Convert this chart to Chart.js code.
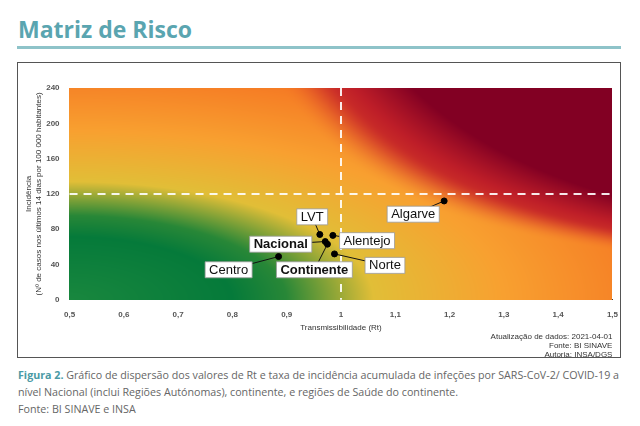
<!DOCTYPE html>
<html><head><meta charset="utf-8">
<script src="https://cdn.jsdelivr.net/npm/chart.js@4.4.0/dist/chart.umd.min.js"></script>
<style>
body{margin:0;width:640px;height:426px;background:#fff;font-family:"Open Sans",sans-serif;position:relative;overflow:hidden}
#title{position:absolute;left:18px;top:13px;font-size:23px;font-weight:bold;color:#5aa5b0}
#rule{position:absolute;left:17px;top:46px;width:604px;height:3px;background:#8ec3c9}
#box{position:absolute;left:17px;top:62px;width:602px;height:294px;border:1px solid #555}
#cap{position:absolute;left:18px;top:367px;width:606px;font-size:10.7px;line-height:17px;color:#666}
#cap b{color:#4a9aa5}
</style></head><body>
<div id="title">Matriz de Risco</div>
<div id="rule"></div>
<div id="box"><canvas id="myChart" width="602" height="294"></canvas></div>
<div id="cap"><b>Figura 2.</b> Gráfico de dispersão dos valores de Rt e taxa de incidência acumulada de infeções por SARS-CoV-2/ COVID-19 a nível Nacional (inclui Regiões Autónomas), continente, e regiões de Saúde do continente.<br>Fonte: BI SINAVE e INSA</div>
<script>
//* Data
let regions = ['Centro', 'LVT', 'Alentejo', 'Nacional', 'Continente', 'Norte', 'Algarve'];
let rtValues = [0.885, 0.961, 0.985, 0.971, 0.975, 0.988, 1.19];
let incidence = [49, 74, 73, 66, 63, 52, 112];
let labelRt = [0.793, 0.947, 1.048, 0.889, 0.951, 1.081, 1.133];
let labelInc = [34, 94, 67, 63, 34, 39, 97];
let boldLabels = ['Nacional', 'Continente'];
let xTicks = [0.5, 0.6, 0.7, 0.8, 0.9, 1, 1.1, 1.2, 1.3, 1.4, 1.5];
let yTicks = [0, 40, 80, 120, 160, 200, 240];

//* Colour of the risk background
let baseStops = [[0, [25,135,62]], [0.3, [5,122,58]], [0.4, [40,135,55]], [0.56, [225,190,55]], [0.8, [248,160,48]], [1.1, [245,120,35]]];
let redStops = [[0, [225,75,40]], [0.5, [190,30,40]], [1, [130,0,35]]];
function lerpStops(stops, s) {
    if (s <= stops[0][0]) return stops[0][1];
    for (let i = 1; i < stops.length; i++) {
        if (s <= stops[i][0]) {
            let t = (s - stops[i-1][0]) / (stops[i][0] - stops[i-1][0]);
            let a = stops[i-1][1], b = stops[i][1];
            return [a[0]+(b[0]-a[0])*t, a[1]+(b[1]-a[1])*t, a[2]+(b[2]-a[2])*t];
        }
    }
    return stops[stops.length-1][1];
}
function riskColor(u, v) {
    let base = lerpStops(baseStops, Math.sqrt(u*u + v*v));
    let q = u * u * Math.pow(v, 1.3);
    let t = Math.min(1, Math.max(0, (q - 0.15) / 0.25));
    if (t === 0) return base;
    let red = lerpStops(redStops, t);
    let m = Math.min(1, t * 2.5);
    m = m * m * (3 - 2 * m);
    return [base[0]+(red[0]-base[0])*m, base[1]+(red[1]-base[1])*m, base[2]+(red[2]-base[2])*m];
}

let backgroundPlugin = {
    id: 'riskBg',
    beforeDatasetsDraw(chart) {
        let ctx = chart.ctx, a = chart.chartArea, xs = chart.scales.x, ys = chart.scales.y;
        let w = Math.round(a.right - a.left), h = Math.round(a.bottom - a.top);
        let img = ctx.createImageData(w, h);
        for (let py = 0; py < h; py++) {
            let v = ys.getValueForPixel(a.top + py) / 240;
            for (let px = 0; px < w; px++) {
                let u = xs.getValueForPixel(a.left + px) - 0.5;
                let c = riskColor(u, v);
                let k = (py * w + px) * 4;
                img.data[k] = c[0]; img.data[k+1] = c[1]; img.data[k+2] = c[2]; img.data[k+3] = 255;
            }
        }
        ctx.putImageData(img, a.left * chart.currentDevicePixelRatio, a.top * chart.currentDevicePixelRatio);
        // dashed thresholds
        ctx.save();
        ctx.strokeStyle = 'rgba(255,255,255,0.9)';
        ctx.lineWidth = 2;
        ctx.setLineDash([8, 6]);
        ctx.beginPath();
        ctx.moveTo(xs.getPixelForValue(1), a.top); ctx.lineTo(xs.getPixelForValue(1), a.bottom);
        ctx.moveTo(a.left, ys.getPixelForValue(120)); ctx.lineTo(a.right, ys.getPixelForValue(120));
        ctx.stroke();
        ctx.restore();
        // connector lines
        ctx.save();
        ctx.strokeStyle = '#111';
        ctx.lineWidth = 1;
        regions.forEach((r, i) => {
            ctx.beginPath();
            ctx.moveTo(xs.getPixelForValue(labelRt[i]), ys.getPixelForValue(labelInc[i]));
            ctx.lineTo(xs.getPixelForValue(rtValues[i]), ys.getPixelForValue(incidence[i]));
            ctx.stroke();
        });
        ctx.restore();
    },
    afterDraw(chart) {
        let ctx = chart.ctx, xs = chart.scales.x, ys = chart.scales.y;
        ctx.save();
        ctx.textAlign = 'center';
        ctx.textBaseline = 'middle';
        regions.forEach((r, i) => {
            let bold = boldLabels.includes(r);
            ctx.font = (bold ? 'bold ' : '') + '13px "Liberation Sans", Arial, sans-serif';
            let cx = xs.getPixelForValue(labelRt[i]), cy = ys.getPixelForValue(labelInc[i]);
            let w = ctx.measureText(r).width + 8;
            ctx.fillStyle = '#fff';
            ctx.strokeStyle = '#999';
            ctx.lineWidth = 0.8;
            ctx.beginPath();
            ctx.rect(cx - w/2, cy - 8, w, 16);
            ctx.fill(); ctx.stroke();
            ctx.fillStyle = '#111';
            ctx.fillText(r, cx, cy + 0.5);
        });
        // credits
        ctx.font = '8px "Liberation Sans", Arial, sans-serif';
        ctx.fillStyle = '#333';
        ctx.textAlign = 'right';
        let right = chart.chartArea.right;
        ctx.fillText('Atualização de dados: 2021-04-01', right, 274);
        ctx.fillText('Fonte: BI SINAVE', right, 283);
        ctx.fillText('Autoria: INSA/DGS', right, 292);
        ctx.restore();
    }
};

let tickFont = {family: '"Liberation Sans", Arial, sans-serif', size: 8, weight: 'bold'};
let titleFont = {family: '"Liberation Sans", Arial, sans-serif', size: 8};
let myChart = new Chart(document.getElementById('myChart'), {
    type: 'scatter',
    data: {
        datasets: [{
            data: regions.map((r, i) => ({x: rtValues[i], y: incidence[i]})),
            backgroundColor: '#000',
            borderColor: '#000',
            pointRadius: 3
        }]
    },
    options: {
        responsive: false,
        animation: false,
        plugins: {legend: {display: false}, tooltip: {enabled: false}},
        layout: {padding: {top: 25, right: 7, bottom: 22, left: 5}},
        scales: {
            x: {
                type: 'linear', min: 0.5, max: 1.5,
                afterBuildTicks: s => { s.ticks = xTicks.map(v => ({value: v})); },
                grid: {display: false, drawTicks: true},
                border: {color: '#333'},
                ticks: {font: tickFont, color: '#555', padding: 2, callback: v => String(v).replace('.', ',')},
                title: {display: true, text: 'Transmissibilidade (Rt)', font: titleFont, color: '#333', padding: 2}
            },
            y: {
                min: 0, max: 240,
                afterBuildTicks: s => { s.ticks = yTicks.map(v => ({value: v})); },
                grid: {display: false},
                border: {color: '#333'},
                ticks: {font: tickFont, color: '#555', padding: 2},
                title: {display: true, text: ['Incidência', '(Nº de casos nos últimos 14 dias por 100 000 habitantes)'], font: titleFont, color: '#333', padding: 1}
            }
        }
    },
    plugins: [backgroundPlugin]
});
</script>
</body></html>
